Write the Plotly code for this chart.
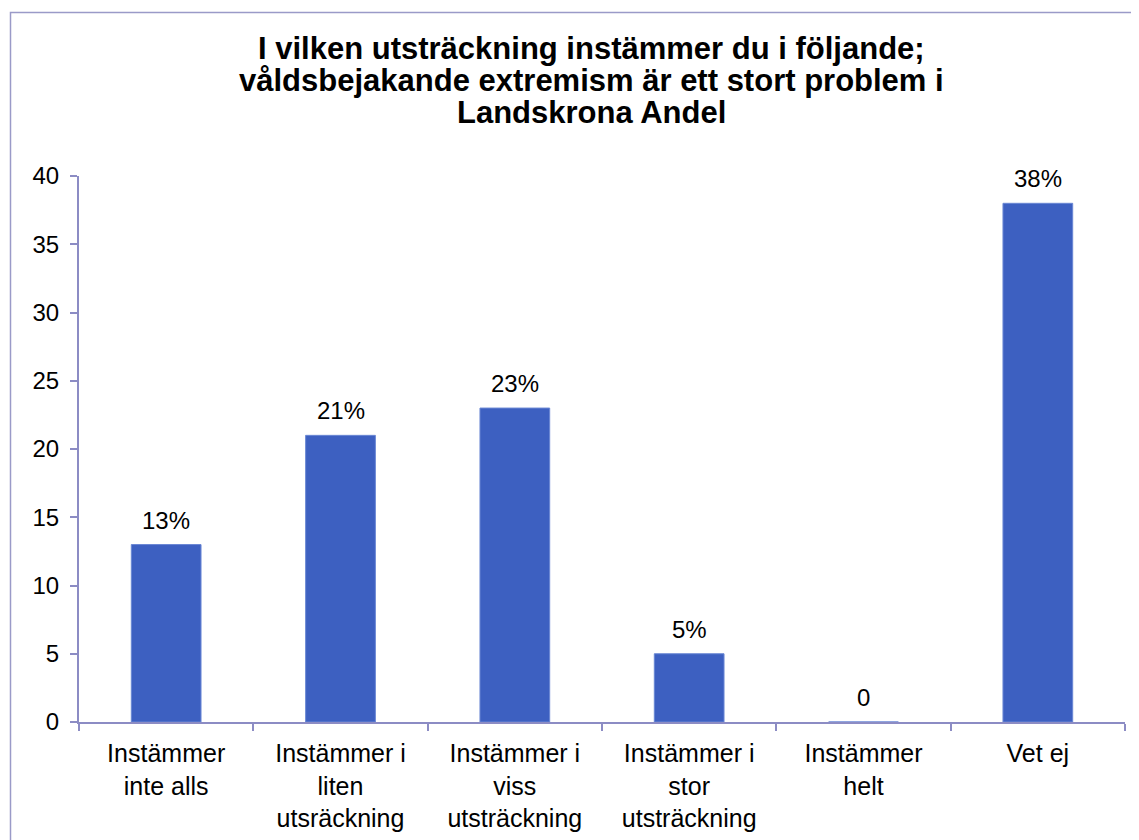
import plotly.graph_objects as go

categories = [
    "Instämmer<br>inte alls",
    "Instämmer i<br>liten<br>utsräckning",
    "Instämmer i<br>viss<br>utsträckning",
    "Instämmer i<br>stor<br>utsträckning",
    "Instämmer<br>helt",
    "Vet ej",
]
values = [13, 21, 23, 5, 0, 38]
value_labels = ["13%", "21%", "23%", "5%", "0", "38%"]
y_ticks = [0, 5, 10, 15, 20, 25, 30, 35, 40]

title_lines = [
    "I vilken utsträckning instämmer du i följande;",
    "våldsbejakande extremism är ett stort problem i",
    "Landskrona Andel",
]

axis_color = "#8C8CC4"
font_family = "Liberation Sans, Arial, sans-serif"

# page is offset by 8px body margin
W, H = 1139, 840
l, r, t, b = 71, 22, 168, 126
pw, ph = W - l - r, H - t - b


def px_to_paper_x(px):
    return (px - l) / pw


def px_to_paper_y(py):
    return (H - b - py) / ph


fig = go.Figure()
fig.add_trace(go.Bar(
    x=categories,
    y=values,
    marker=dict(color="#3D60C1", line=dict(color="#6A87D4", width=1)),
    width=0.4,
    cliponaxis=False,
))

for c, v, lab in zip(categories, values, value_labels):
    fig.add_annotation(
        x=c, y=v, text=lab, showarrow=False,
        xref="x", yref="y", yanchor="bottom", yshift=9,
        font=dict(size=24, family=font_family, color="#000000"),
    )

title_centers = [41, 73, 105]
for line, cy in zip(title_lines, title_centers):
    fig.add_annotation(
        text="<b>" + line + "</b>", showarrow=False,
        xref="paper", yref="paper",
        x=px_to_paper_x(583), y=px_to_paper_y(cy),
        xanchor="center", yanchor="middle",
        font=dict(size=31, family=font_family, color="#000000"),
    )

fig.update_layout(
    width=W, height=H,
    margin=dict(l=l, r=r, t=t, b=b),
    paper_bgcolor="white",
    plot_bgcolor="white",
    showlegend=False,
    font=dict(family=font_family, color="#000000"),
    xaxis=dict(
        showline=True, linecolor=axis_color, linewidth=2,
        ticks="outside", tickson="boundaries", ticklen=7, tickcolor=axis_color, tickwidth=2,
        tickfont=dict(size=25, family=font_family, color="#000000"),
        showgrid=False, zeroline=False,
        ticklabelstandoff=8,
    ),
    yaxis=dict(
        range=[0, 40], tickvals=y_ticks,
        showline=True, linecolor=axis_color, linewidth=2,
        ticks="outside", ticklen=7, tickcolor=axis_color, tickwidth=2,
        tickfont=dict(size=24, family=font_family, color="#000000"),
        showgrid=False, zeroline=False,
        ticklabelstandoff=6,
    ),
)

fig.add_shape(
    type="rect", xref="paper", yref="paper",
    x0=px_to_paper_x(2.5), x1=px_to_paper_x(1160),
    y0=px_to_paper_y(870), y1=px_to_paper_y(4.5),
    line=dict(color="#9A9AC8", width=1.5), fillcolor="rgba(0,0,0,0)",
    layer="below",
)

fig.write_html("out.html")
